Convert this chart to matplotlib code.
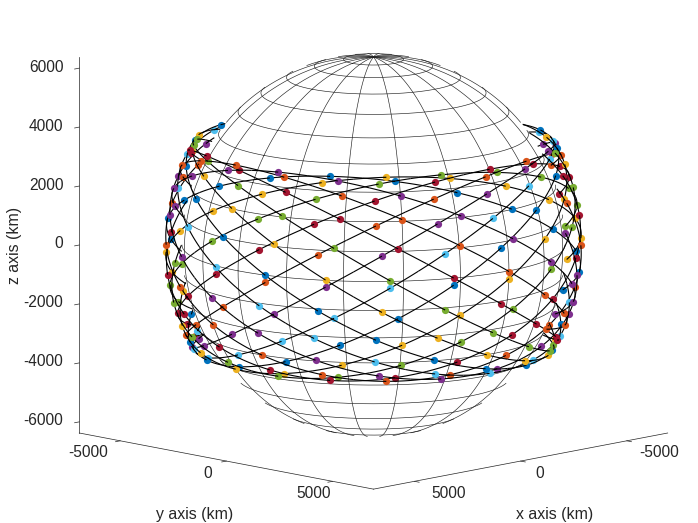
import numpy as np
import matplotlib
matplotlib.use("Agg")
import matplotlib.pyplot as plt
from matplotlib.transforms import ScaledTranslation
from mpl_toolkits.mplot3d import proj3d

plt.rcParams['font.family'] = ['Liberation Sans', 'DejaVu Sans']

# values
earth_radius_km = 6378.0
orbit_radius_km = 6928.0
inclination_deg = 30.0
plane_raan_deg = [303.4, 321.4, 339.4, 357.4, 15.4, 33.4, 51.4, 69.4, 87.4, 105.4,
                  123.4, 141.4, 159.4, 177.4, 195.4, 213.4, 231.4, 249.4, 267.4, 285.4]
sat_arg_lat_deg = [16.0, 34.0, 52.0, 70.0, 88.0, 106.0, 124.0, 142.0, 160.0, 178.0,
                   196.0, 214.0, 232.0, 250.0, 268.0, 286.0, 304.0, 322.0, 340.0, 358.0]
plane_color_steps = [0, 2, 4, 6, 1, 3, 5, 0, 2, 4, 6, 1, 3, 5, 0, 2, 4, 6, 1, 3]
palette = ['#0072BD', '#D95319', '#EDB120', '#7E2F8E', '#77AC30', '#4DBEEE', '#A2142F']
xy_ticks = [-5000, 0, 5000]
z_ticks = [-6000, -4000, -2000, 0, 2000, 4000, 6000]
xy_limit = 6928.0
z_limit = 6378.0
meridians_deg = [18.0 * k for k in range(20)]
parallels_deg = [9.0 * k for k in range(-9, 10)]
half_gap_deg = 9.0

ELEV, AZIM = 11.0, 45.0
W, H = 698, 523
el, az = np.radians(ELEV), np.radians(AZIM)
view = np.array([np.cos(el) * np.cos(az), np.cos(el) * np.sin(az), np.sin(el)])


def hide_back(x, y, z):
    """Blank what the opaque Earth hides from this viewpoint."""
    p = np.stack([x, y, z], axis=-1)
    d = p @ view
    perp = np.sqrt(np.maximum((p * p).sum(-1) - d * d, 0))
    hidden = (d < 0) & (perp < earth_radius_km)
    return np.where(hidden, np.nan, x), np.where(hidden, np.nan, y), np.where(hidden, np.nan, z)


def orbit_xyz(raan_deg, u_deg):
    u = np.radians(u_deg)
    O = np.radians(raan_deg)
    i = np.radians(inclination_deg)
    x = orbit_radius_km * (np.cos(O) * np.cos(u) - np.sin(O) * np.sin(u) * np.cos(i))
    y = orbit_radius_km * (np.sin(O) * np.cos(u) + np.cos(O) * np.sin(u) * np.cos(i))
    z = orbit_radius_km * np.sin(u) * np.sin(i)
    return x, y, z


fig = plt.figure(figsize=(W / 100, H / 100), dpi=100)
ax = fig.add_axes([0, 0, 1, 1], projection='3d', proj_type='ortho', computed_zorder=False)
ax.view_init(elev=ELEV, azim=AZIM)
ax.patch.set_alpha(0)

t = np.radians(np.linspace(0, 360, 361))
tt = np.radians(np.linspace(-90, 90, 181))
for lon in meridians_deg:
    lam = np.radians(lon)
    x, y, z = hide_back(earth_radius_km * np.cos(tt) * np.cos(lam), earth_radius_km * np.cos(tt) * np.sin(lam),
                        earth_radius_km * np.sin(tt))
    ax.plot(x, y, z, color='#222222', lw=0.45, zorder=2)
for lat in parallels_deg:
    ph = np.radians(lat)
    x, y, z = hide_back(earth_radius_km * np.cos(ph) * np.cos(t), earth_radius_km * np.cos(ph) * np.sin(t),
                        earth_radius_km * np.sin(ph) * np.ones_like(t))
    ax.plot(x, y, z, color='#222222', lw=0.45, zorder=2)

# each satellite: the arc leaving it lies under its dot, the arc reaching it on top
for raan, step in zip(plane_raan_deg, plane_color_steps):
    for u0 in sat_arg_lat_deg:
        x, y, z = hide_back(*orbit_xyz(raan, np.linspace(u0, u0 + half_gap_deg, 19)))
        ax.plot(x, y, z, color='black', lw=0.8, zorder=3, solid_capstyle='butt')
        x, y, z = hide_back(*orbit_xyz(raan, np.array([u0])))
        ax.plot(x, y, z, ls='none', marker='o', ms=5.2, mew=0, color=palette[step], zorder=3)
        x, y, z = hide_back(*orbit_xyz(raan, np.linspace(u0 - half_gap_deg, u0, 19)))
        ax.plot(x, y, z, color='black', lw=0.8, zorder=3, solid_capstyle='butt')

ax.set_xlim(-xy_limit, xy_limit)
ax.set_ylim(-xy_limit, xy_limit)
ax.set_zlim(-z_limit, z_limit)
ax.set_xticks(xy_ticks)
ax.set_yticks(xy_ticks)
ax.set_zticks(z_ticks)
ax.set_xticklabels([str(v) for v in xy_ticks])
ax.set_yticklabels([str(v) for v in xy_ticks])
ax.set_zticklabels([str(v) for v in z_ticks])
ax.grid(False)
for a in (ax.xaxis, ax.yaxis, ax.zaxis):
    a.pane.set_visible(False)
    a.line.set_color('#262626')
    a.line.set_linewidth(0.5)
    a._axinfo['tick']['linewidth'] = {True: 0.5, False: 0.5}
    a._axinfo['tick']['color'] = '#262626'
    a.set_tick_params(pad=-8, labelsize=11.2, colors='#262626')
    a._axinfo['tick']['inward_factor'] = 0.2
    a._axinfo['tick']['outward_factor'] = 0.0

# layout: fit projected box to the reference's axis corners
aspect = (2 * xy_limit, 2 * xy_limit, 2 * z_limit)


def px(x, y, z):
    a, b, _ = proj3d.proj_transform(x, y, z, ax.get_proj())
    return ax.transData.transform((a, b))


ax.set_box_aspect(aspect, zoom=1.0)
ax.apply_aspect()
p0 = px(xy_limit, -xy_limit, -z_limit)
p1 = px(xy_limit, -xy_limit, z_limit)
ax.set_box_aspect(aspect, zoom=376.0 / abs(p1[1] - p0[1]))
ax.apply_aspect()
c = px(0, 0, 0)
dx, dy = 373.5 - c[0], (H - 245.0) - c[1]
ax.set_position([dx / W, dy / H, 1, 1])
ax.apply_aspect()


def off(dx_px, dy_px):
    return ax.transData + ScaledTranslation(dx_px / 100, -dy_px / 100, fig.dpi_scale_trans)


def place_labels(axis, offsets, ha):
    original = axis.get_major_ticks

    def patched(numticks=None):
        ticks = original(numticks)
        for tk, (ox, oy) in zip(ticks, offsets):
            tk.label1.set_transform(off(ox, oy))
            tk.label1.set_ha(ha)
            tk.label1.set_va('center')
        return ticks
    axis.get_major_ticks = patched


place_labels(ax.xaxis, [(32, 12), (19.5, 12.5), (34, 12)], 'center')
place_labels(ax.yaxis, [(-32, 12), (-19, 12.5), (-19, 12)], 'center')
place_labels(ax.zaxis, [(-16, -1)] * len(z_ticks), 'right')

fig.text(195 / W, 1 - 514 / H, 'y axis (km)', ha='center', va='center', fontsize=11.4, color='#262626')
fig.text(555 / W, 1 - 514 / H, 'x axis (km)', ha='center', va='center', fontsize=11.4, color='#262626')
fig.text(15 / W, 1 - 245 / H, 'z axis (km)', ha='center', va='center', rotation=90, fontsize=11.4, color='#262626')

fig.savefig('out.png', dpi=100)
